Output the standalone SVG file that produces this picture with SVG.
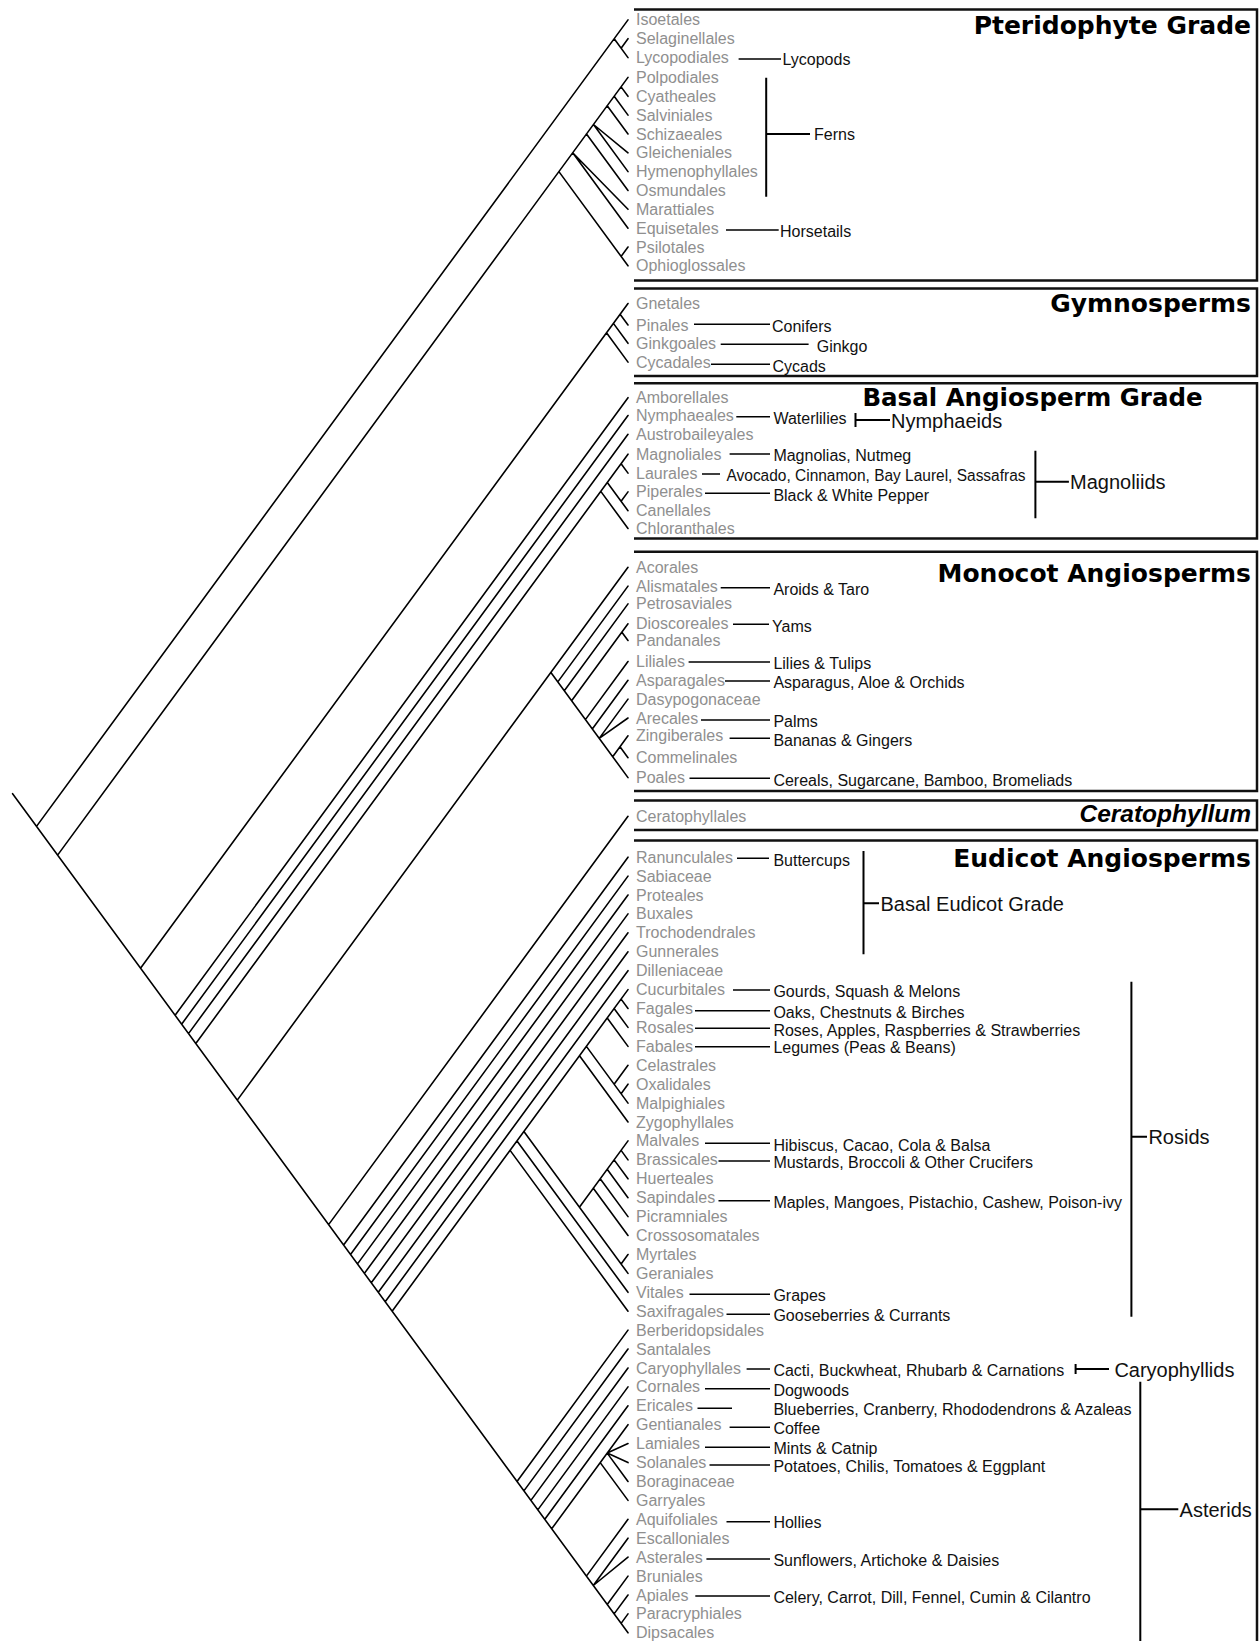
<svg xmlns="http://www.w3.org/2000/svg" width="1259" height="1641" viewBox="0 0 1259 1641">
<style>
.t{font-family:"Liberation Sans",Arial,sans-serif;font-size:16px;fill:#8f8f8f}
.c{font-family:"Liberation Sans",Arial,sans-serif;font-size:16px;fill:#111}
.g{font-family:"Liberation Sans",Arial,sans-serif;font-size:20px;fill:#111}
.h{font-family:"DejaVu Sans",sans-serif;font-weight:bold;font-size:25px;fill:#000;text-anchor:end}
.tree{stroke:#000;stroke-width:1.6;fill:none;stroke-linecap:round}
.ln{stroke:#000;stroke-width:1.6;fill:none}
.br{stroke:#000;stroke-width:2;fill:none}
.box{stroke:#111;stroke-width:2.5;fill:none}
</style>
<rect width="1259" height="1641" fill="#fff"/>
<g id="boxes">
<path class="box" d="M634 9.5H1257V280.5H634"/>
<path class="box" d="M634 288.5H1257V376H634"/>
<path class="box" d="M634 383.3H1257V538.5H634"/>
<path class="box" d="M634 551.7H1257V791H634"/>
<path class="box" d="M634 800.5H1257V830H634"/>
<path class="box" d="M634 840.5H1257V1645"/>
</g>
<g id="titles">
<text class="h" x="1251" y="33.5">Pteridophyte Grade</text>
<text class="h" x="1251" y="311.5">Gymnosperms</text>
<text class="h" x="862.4" y="405.5" style="text-anchor:start;font-size:24.5px">Basal Angiosperm Grade</text>
<text class="h" x="1251" y="581.7">Monocot Angiosperms</text>
<text class="h" x="1251" y="821.5" style="font-family:'Liberation Sans',Arial,sans-serif;font-style:italic;font-size:24.5px">Ceratophyllum</text>
<text class="h" x="1251" y="866.5">Eudicot Angiosperms</text>
</g>
<g id="connectors">
<path class="tree" d="M12.6 793.7L628 1632.8
M36.5 826.4L628 19.9 M57.6 855.1L628 77.4 M140.5 968.2L628 303.5
M175.1 1015.3L628 397.7 M181.6 1024.2L628 415.5 M188.5 1033.6L628 434.3 M195.8 1043.5L628 454.2
M237.3 1100.1L628 567.3 M328.6 1224.6L628 816.3
M343.6 1245L628 857.2 M350.5 1254.5L628 876.1 M357.5 1263.9L628 895 M364.4 1273.4L628 913.9
M371.3 1282.8L628 932.8 M378.3 1292.3L628 951.8 M385.2 1301.8L628 970.7 M392.1 1311.2L628 989.6
M517 1481.5L628 1330.1 M523.9 1490.9L628 1349 M530.9 1500.4L628 1368 M537.8 1509.9L628 1386.9
M544.8 1519.3L628 1405.8 M551.7 1528.8L628 1424.7
M586.4 1576.1L628 1519.3 M593.3 1585.5L628 1538.2 M593.3 1585.5L628 1557.1
M607.2 1604.5L628 1576.1 M614.1 1613.9L628 1595 M621.1 1623.4L628 1613.9
M614.2 38.8L628 57.6 M621.1 48.2L628 38.7
M558.9 171.6L628 265.8 M621.1 256.4L628 247
M572.7 152.8L628 228.2 M572.7 152.8L628 209.3
M586.5 134L628 190.5
M593.5 124.5L628 171.6 M593.5 124.5L628 152.8
M607.2 105.7L628 134 M614.2 96.3L628 115.1 M621.1 86.9L628 96.3
M606.5 332.8L628 362.1 M613.4 323.4L628 343.3 M620.1 314.3L628 325
M600.8 491.4L628 528.5 M607.3 482.5L628 510.7 M621.1 501.3L628 491.9 M621.1 463.7L628 473.1
M550.9 672.5L628 777.6 M557.8 681.9L628 586.1 M564.3 690.8L628 603.9 M571.6 700.7L628 623.8
M621.9 632.2L628 640.5 M585.4 719.6L628 661.5 M592.3 729L628 680.3
M599.2 738.4L628 699.1 M599.2 738.4L628 718 M612.7 756.7L628 735.8 M620 746.8L628 757.7
M510.1 1150.4L628 1311.2 M517 1141L628 1292.3 M523.9 1131.5L628 1273.4 M621.1 1264L628 1254.5
M579.4 1207.2L628 1140.9 M593.3 1188.2L628 1235.5 M600.2 1178.8L628 1216.6 M607.2 1169.3L628 1197.7
M614.1 1159.9L628 1178.8 M621.1 1150.4L628 1159.9
M579.5 1055.8L628 1122 M586.4 1046.4L628 1103.1 M614.1 1084.2L628 1065.3 M621.1 1093.7L628 1084.2
M607.2 1018L628 1046.4 M614.1 1008.5L628 1027.4 M621.1 999.1L628 1008.5
M600.2 1462.6L628 1500.4 M607.2 1453.1L628 1443.6 M607.2 1453.1L628 1462.6 M607.2 1453.1L628 1481.5"/>
<path class="ln" d="M738.6 59H781 M726 230H778.7 M694 324.3H770 M720.7 344.3H808.6 M711 364.3H770
M736.3 416.7H770 M729.6 454H770 M702 474H720 M705 493.3H770
M720.7 587.7H770 M733 624.3H769 M688.6 662H770 M725 681H770 M701 720H770 M729.6 738.3H770 M689.5 778.3H770
M737 858.3H769 M733 990H770 M695 1010.7H770 M695 1028.3H770 M695 1046.7H770
M705 1143.3H770 M718.5 1161H770 M718.5 1200.7H770 M689.5 1294.3H770 M726.5 1314.3H770
M746.6 1369H770 M705 1388.7H770 M697.5 1408.3H732 M729.6 1427.3H770 M705 1447.3H770 M709.5 1465H770
M726.5 1521.7H770 M706.4 1559H770 M695.3 1596H770"/>
<path class="br" d="M766.2 77.7V196.7 M766.2 134H810
M855.5 413V427 M855.5 420H890
M1035.4 450.7V518.3 M1035.4 481.7H1068.9
M863.5 851V954.3 M863.5 903.3H879
M1131.4 981.7V1316.7 M1131.4 1136.7H1147
M1075.6 1364V1374 M1075.6 1369H1109
M1140.3 1381.7V1645 M1140.3 1509.3H1178.3"/>
</g>
<g id="taxa">
<g id="n01"><text class="t" x="636" y="25.4">Isoetales</text></g>
<g id="n02"><text class="t" x="636" y="44.2">Selaginellales</text></g>
<g id="n03"><text class="t" x="636" y="63.1">Lycopodiales</text></g>
<g id="n04"><text class="t" x="636" y="82.9">Polpodiales</text></g>
<g id="n05"><text class="t" x="636" y="101.8">Cyatheales</text></g>
<g id="n06"><text class="t" x="636" y="120.6">Salviniales</text></g>
<g id="n07"><text class="t" x="636" y="139.5">Schizaeales</text></g>
<g id="n08"><text class="t" x="636" y="158.3">Gleicheniales</text></g>
<g id="n09"><text class="t" x="636" y="177.1">Hymenophyllales</text></g>
<g id="n10"><text class="t" x="636" y="196">Osmundales</text></g>
<g id="n11"><text class="t" x="636" y="214.8">Marattiales</text></g>
<g id="n12"><text class="t" x="636" y="233.7">Equisetales</text></g>
<g id="n13"><text class="t" x="636" y="252.5">Psilotales</text></g>
<g id="n14"><text class="t" x="636" y="271.3">Ophioglossales</text></g>
<g id="n15"><text class="t" x="636" y="309">Gnetales</text></g>
<g id="n16"><text class="t" x="636" y="330.5">Pinales</text></g>
<g id="n17"><text class="t" x="636" y="348.8">Ginkgoales</text></g>
<g id="n18"><text class="t" x="636" y="367.6">Cycadales</text></g>
<g id="n19"><text class="t" x="636" y="403.2">Amborellales</text></g>
<g id="n20"><text class="t" x="636" y="421">Nymphaeales</text></g>
<g id="n21"><text class="t" x="636" y="439.8">Austrobaileyales</text></g>
<g id="n22"><text class="t" x="636" y="459.7">Magnoliales</text></g>
<g id="n23"><text class="t" x="636" y="478.6">Laurales</text></g>
<g id="n24"><text class="t" x="636" y="497.4">Piperales</text></g>
<g id="n25"><text class="t" x="636" y="516.2">Canellales</text></g>
<g id="n26"><text class="t" x="636" y="534">Chloranthales</text></g>
<g id="n27"><text class="t" x="636" y="572.8">Acorales</text></g>
<g id="n28"><text class="t" x="636" y="591.6">Alismatales</text></g>
<g id="n29"><text class="t" x="636" y="609.4">Petrosaviales</text></g>
<g id="n30"><text class="t" x="636" y="629.3">Dioscoreales</text></g>
<g id="n31"><text class="t" x="636" y="646">Pandanales</text></g>
<g id="n32"><text class="t" x="636" y="667">Liliales</text></g>
<g id="n33"><text class="t" x="636" y="685.8">Asparagales</text></g>
<g id="n34"><text class="t" x="636" y="704.6">Dasypogonaceae</text></g>
<g id="n35"><text class="t" x="636" y="723.5">Arecales</text></g>
<g id="n36"><text class="t" x="636" y="741.3">Zingiberales</text></g>
<g id="n37"><text class="t" x="636" y="763.2">Commelinales</text></g>
<g id="n38"><text class="t" x="636" y="783.1">Poales</text></g>
<g id="n39"><text class="t" x="636" y="821.8">Ceratophyllales</text></g>
<g id="n40"><text class="t" x="636" y="862.7">Ranunculales</text></g>
<g id="n41"><text class="t" x="636" y="881.6">Sabiaceae</text></g>
<g id="n42"><text class="t" x="636" y="900.5">Proteales</text></g>
<g id="n43"><text class="t" x="636" y="919.4">Buxales</text></g>
<g id="n44"><text class="t" x="636" y="938.3">Trochodendrales</text></g>
<g id="n45"><text class="t" x="636" y="957.3">Gunnerales</text></g>
<g id="n46"><text class="t" x="636" y="976.2">Dilleniaceae</text></g>
<g id="n47"><text class="t" x="636" y="995.1">Cucurbitales</text></g>
<g id="n48"><text class="t" x="636" y="1014">Fagales</text></g>
<g id="n49"><text class="t" x="636" y="1032.9">Rosales</text></g>
<g id="n50"><text class="t" x="636" y="1051.9">Fabales</text></g>
<g id="n51"><text class="t" x="636" y="1070.8">Celastrales</text></g>
<g id="n52"><text class="t" x="636" y="1089.7">Oxalidales</text></g>
<g id="n53"><text class="t" x="636" y="1108.6">Malpighiales</text></g>
<g id="n54"><text class="t" x="636" y="1127.5">Zygophyllales</text></g>
<g id="n55"><text class="t" x="636" y="1146.4">Malvales</text></g>
<g id="n56"><text class="t" x="636" y="1165.4">Brassicales</text></g>
<g id="n57"><text class="t" x="636" y="1184.3">Huerteales</text></g>
<g id="n58"><text class="t" x="636" y="1203.2">Sapindales</text></g>
<g id="n59"><text class="t" x="636" y="1222.1">Picramniales</text></g>
<g id="n60"><text class="t" x="636" y="1241">Crossosomatales</text></g>
<g id="n61"><text class="t" x="636" y="1260">Myrtales</text></g>
<g id="n62"><text class="t" x="636" y="1278.9">Geraniales</text></g>
<g id="n63"><text class="t" x="636" y="1297.8">Vitales</text></g>
<g id="n64"><text class="t" x="636" y="1316.7">Saxifragales</text></g>
<g id="n65"><text class="t" x="636" y="1335.6">Berberidopsidales</text></g>
<g id="n66"><text class="t" x="636" y="1354.5">Santalales</text></g>
<g id="n67"><text class="t" x="636" y="1373.5">Caryophyllales</text></g>
<g id="n68"><text class="t" x="636" y="1392.4">Cornales</text></g>
<g id="n69"><text class="t" x="636" y="1411.3">Ericales</text></g>
<g id="n70"><text class="t" x="636" y="1430.2">Gentianales</text></g>
<g id="n71"><text class="t" x="636" y="1449.1">Lamiales</text></g>
<g id="n72"><text class="t" x="636" y="1468.1">Solanales</text></g>
<g id="n73"><text class="t" x="636" y="1487">Boraginaceae</text></g>
<g id="n74"><text class="t" x="636" y="1505.9">Garryales</text></g>
<g id="n75"><text class="t" x="636" y="1524.8">Aquifoliales</text></g>
<g id="n76"><text class="t" x="636" y="1543.7">Escalloniales</text></g>
<g id="n77"><text class="t" x="636" y="1562.6">Asterales</text></g>
<g id="n78"><text class="t" x="636" y="1581.6">Bruniales</text></g>
<g id="n79"><text class="t" x="636" y="1600.5">Apiales</text></g>
<g id="n80"><text class="t" x="636" y="1619.4">Paracryphiales</text></g>
<g id="n81"><text class="t" x="636" y="1638.3">Dipsacales</text></g>
</g>
<g id="common">
<g id="c-lycopods"><text class="c" x="782.5" y="65">Lycopods</text></g>
<g id="c-ferns"><text class="c" x="814" y="140">Ferns</text></g>
<g id="c-horsetails"><text class="c" x="780" y="237">Horsetails</text></g>
<g id="c-conifers"><text class="c" x="772" y="331.5">Conifers</text></g>
<g id="c-ginkgo"><text class="c" x="816.7" y="351.5">Ginkgo</text></g>
<g id="c-cycads"><text class="c" x="772.5" y="371.5">Cycads</text></g>
<g id="c-waterlilies"><text class="c" x="773.4" y="423.5">Waterlilies</text></g>
<g id="c-nymphaeids"><text class="g" x="891" y="428">Nymphaeids</text></g>
<g id="c-magnolias"><text class="c" x="773.4" y="460.5">Magnolias, Nutmeg</text></g>
<g id="c-avocado"><text class="c" x="726.5" y="480.5" textLength="299" lengthAdjust="spacingAndGlyphs">Avocado, Cinnamon, Bay Laurel, Sassafras</text></g>
<g id="c-pepper"><text class="c" x="773.4" y="500.5">Black &amp; White Pepper</text></g>
<g id="c-magnoliids"><text class="g" x="1070" y="488.5">Magnoliids</text></g>
<g id="c-aroids"><text class="c" x="773.4" y="595">Aroids &amp; Taro</text></g>
<g id="c-yams"><text class="c" x="772" y="631.5">Yams</text></g>
<g id="c-lilies"><text class="c" x="773.4" y="669">Lilies &amp; Tulips</text></g>
<g id="c-asparagus"><text class="c" x="773.4" y="688">Asparagus, Aloe &amp; Orchids</text></g>
<g id="c-palms"><text class="c" x="773.4" y="727">Palms</text></g>
<g id="c-bananas"><text class="c" x="773.4" y="745.5">Bananas &amp; Gingers</text></g>
<g id="c-cereals"><text class="c" x="773.4" y="785.5">Cereals, Sugarcane, Bamboo, Bromeliads</text></g>
<g id="c-buttercups"><text class="c" x="773.4" y="865.5">Buttercups</text></g>
<g id="c-basaleudicot"><text class="g" x="880.5" y="911">Basal Eudicot Grade</text></g>
<g id="c-gourds"><text class="c" x="773.4" y="996.5">Gourds, Squash &amp; Melons</text></g>
<g id="c-oaks"><text class="c" x="773.4" y="1018">Oaks, Chestnuts &amp; Birches</text></g>
<g id="c-roses"><text class="c" x="773.4" y="1035.5">Roses, Apples, Raspberries &amp; Strawberries</text></g>
<g id="c-legumes"><text class="c" x="773.4" y="1053">Legumes (Peas &amp; Beans)</text></g>
<g id="c-rosids"><text class="g" x="1148.4" y="1144">Rosids</text></g>
<g id="c-hibiscus"><text class="c" x="773.4" y="1150.5">Hibiscus, Cacao, Cola &amp; Balsa</text></g>
<g id="c-mustards"><text class="c" x="773.4" y="1168">Mustards, Broccoli &amp; Other Crucifers</text></g>
<g id="c-maples"><text class="c" x="773.4" y="1208">Maples, Mangoes, Pistachio, Cashew, Poison-ivy</text></g>
<g id="c-grapes"><text class="c" x="773.4" y="1301">Grapes</text></g>
<g id="c-gooseberries"><text class="c" x="773.4" y="1321">Gooseberries &amp; Currants</text></g>
<g id="c-cacti"><text class="c" x="773.4" y="1375.5">Cacti, Buckwheat, Rhubarb &amp; Carnations</text></g>
<g id="c-caryophyllids"><text class="g" x="1114.4" y="1376.5">Caryophyllids</text></g>
<g id="c-dogwoods"><text class="c" x="773.4" y="1395.5">Dogwoods</text></g>
<g id="c-blueberries"><text class="c" x="773.4" y="1415">Blueberries, Cranberry, Rhododendrons &amp; Azaleas</text></g>
<g id="c-coffee"><text class="c" x="773.4" y="1434">Coffee</text></g>
<g id="c-mints"><text class="c" x="773.4" y="1453.5">Mints &amp; Catnip</text></g>
<g id="c-potatoes"><text class="c" x="773.4" y="1471.5">Potatoes, Chilis, Tomatoes &amp; Eggplant</text></g>
<g id="c-hollies"><text class="c" x="773.4" y="1528">Hollies</text></g>
<g id="c-sunflowers"><text class="c" x="773.4" y="1565.5">Sunflowers, Artichoke &amp; Daisies</text></g>
<g id="c-celery"><text class="c" x="773.4" y="1602.5">Celery, Carrot, Dill, Fennel, Cumin &amp; Cilantro</text></g>
<g id="c-asterids"><text class="g" x="1179.6" y="1516.5">Asterids</text></g>
</g>
</svg>
